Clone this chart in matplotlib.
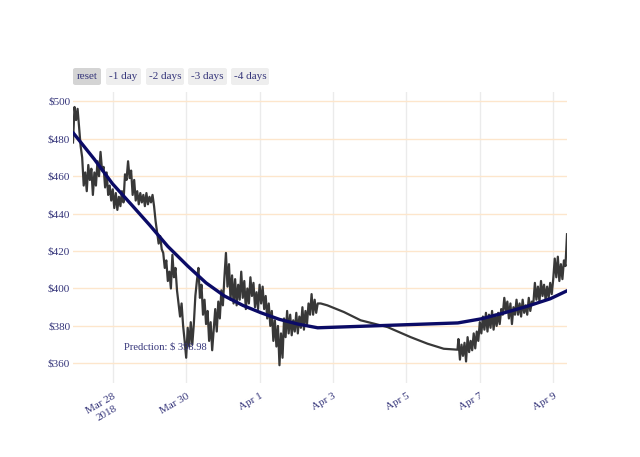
"""Price history with fitted trend, styled like a plotly range-selector chart."""

import numpy as np
import pandas as pd
import matplotlib

matplotlib.use("Agg")
import matplotlib.pyplot as plt
from matplotlib.patches import FancyBboxPatch

plt.rcParams["font.family"] = ["Liberation Serif", "DejaVu Serif"]

T0 = pd.Timestamp("2018-03-27 00:00")
TXT = "#35357a"

# price series, hourly (hours after T0)
seg1_start = -2
seg1_price = [
    478, 497, 490, 496, 486, 476, 470, 455, 462, 452,
    466, 458, 464, 450, 462, 455, 468, 460, 473, 463,
    465, 454, 462, 450, 455, 447, 453, 443, 451, 442,
    449, 444, 452, 446, 461, 458, 468, 459, 463, 450,
    458, 447, 452, 445, 451, 446, 450, 444, 451, 445,
    449, 446, 450, 444, 436, 430, 424, 428, 421, 419,
    411, 415, 404, 409, 400, 418, 406, 411, 399, 392,
    385, 392, 380, 372, 363, 379, 369, 382, 370, 381,
    396, 404, 411, 395, 402, 386, 394, 381, 388, 372,
    382, 367, 378, 389, 377, 393, 384, 399, 391, 406,
    419, 401, 413, 394, 407, 392, 405, 391, 402, 394,
    409, 395, 404, 389, 400, 392, 406, 396, 403, 390,
    398, 389, 402, 392, 401, 389, 396, 384, 392, 380,
    388, 372, 383, 369, 380, 359, 376, 363, 384, 374,
    388, 376, 386, 375, 383, 377, 387, 376, 385, 379,
    390, 378, 388, 381, 392, 386, 397, 386, 394, 387,
    392,
]
gap_hours = [160, 164.3, 175.2, 186.1, 203.6, 218.8, 229.8, 240.4, 249.4]
gap_price = [392, 391, 387.4, 383, 379.4, 374, 370.5, 367.8, 367.3]
seg2_start = 250
seg2_price = [
    373, 362, 370, 364, 371, 361, 374, 366, 372, 367,
    376, 368, 377, 372, 382, 376, 385, 378, 387, 377,
    386, 379, 388, 378, 386, 380, 387, 381, 389, 386,
    395, 388, 393, 384, 392, 381, 390, 386, 394, 386,
    392, 385, 394, 387, 391, 386, 395, 388, 393, 392,
    403, 394, 401, 393, 404, 396, 402, 394, 401, 395,
    403, 397, 405, 416, 406, 417, 404, 413, 405, 415,
    412, 429,
]

# fitted trend
trend_hours = [-1.7, 12, 23.8, 36, 48, 60, 73, 85, 97, 109, 121, 133, 145, 158,
               249.6, 265, 280, 295, 310, 321.6]
trend_price = [483, 469, 456, 445, 434, 422.5, 412, 403, 396, 391, 387, 383.5, 381, 379,
               381.6, 383.8, 387, 390.5, 394.5, 399]

prediction = 398.98
buttons = ["reset", "-1 day", "-2 days", "-3 days", "-4 days"]


def to_time(hours):
    return T0 + pd.to_timedelta(np.asarray(hours, dtype=float), unit="h")


hours = np.concatenate([
    np.arange(seg1_start, seg1_start + len(seg1_price)),
    gap_hours,
    np.arange(seg2_start, seg2_start + len(seg2_price)),
])
price = np.concatenate([seg1_price, gap_price, seg2_price])
t = to_time(hours)

fig = plt.figure(figsize=(6.4, 4.57), dpi=100)
ax = fig.add_axes([73 / 640, 1 - 383 / 457, 494 / 640, 291 / 457])

ax.plot(t, price, color="#383838", lw=1.6, zorder=3)
ax.plot(to_time(trend_hours), trend_price, color="#0b0b66", lw=2.4, zorder=4)

ax.text(to_time([58.5])[0], 368.5, f"Predction: $ {prediction}", color=TXT,
        fontsize=7.6, ha="center", va="center", zorder=5)

ax.set_xlim(t[0], t[-1])
ax.set_ylim(349.5, 505)

ticks = pd.date_range("2018-03-28", "2018-04-09", freq="2D")
ax.set_xticks(ticks)
labels = [d.strftime("%b ") + str(d.day) for d in ticks]
labels[0] += "\n2018"
ax.set_xticklabels(labels, rotation=30, ha="right", rotation_mode="anchor",
                   color=TXT, fontsize=8, multialignment="center", linespacing=1.3)
yt = np.arange(360, 501, 20)
ax.set_yticks(yt)
ax.set_yticklabels([f"${v}" for v in yt], color=TXT, fontsize=8)
ax.tick_params(length=0, pad=2)
ax.tick_params(axis="x", pad=6)

ax.grid(axis="x", color="#ebebeb", lw=1)
ax.grid(axis="y", color="#fde6cc", lw=1)
for s in ax.spines.values():
    s.set_visible(False)

# range selector buttons
xs = [(73, 101), (106, 141), (146, 184), (188, 227), (231, 269)]
for (x0, x1), name in zip(xs, buttons):
    fc = "#d4d4d4" if name == "reset" else "#eeeeee"
    box = FancyBboxPatch((x0 / 640, 1 - 85 / 457), (x1 - x0) / 640, 17 / 457,
                         boxstyle="round,pad=0,rounding_size=0.004",
                         transform=fig.transFigure, fc=fc, ec="none")
    fig.patches.append(box)
    fig.text((x0 + x1) / 2 / 640, 1 - 76.5 / 457, name, ha="center", va="center",
             color=TXT, fontsize=8)

fig.savefig("out.png", dpi=100)
